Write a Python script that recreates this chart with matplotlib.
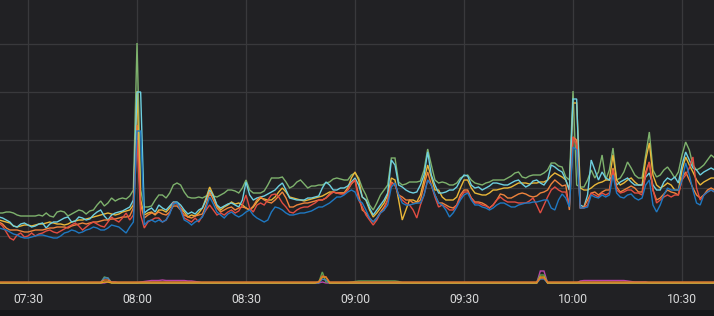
import matplotlib
matplotlib.use("Agg")
import matplotlib.pyplot as plt
import matplotlib.dates as mdates
from matplotlib.patches import Rectangle
import pandas as pd

plt.rcParams['font.family'] = ['Roboto', 'DejaVu Sans']

# one sample per minute, 07:22 .. 10:39
times = pd.date_range("2024-01-01 07:22", periods=198, freq="1min")

green = [
71,71,72,72,71,69,68,68,
68,68,68,69,68,71,68,67,72,73,
72,68,70,72,74,73,70,73,74,79,
83,78,81,86,83,85,86,85,88,94,
241,94,77,77,78,84,89,89,86,91,
99,101,99,92,87,86,86,87,86,88,
89,88,87,89,91,94,94,93,91,96,
104,94,91,91,91,93,99,106,106,106,
107,102,96,98,102,104,100,96,98,98,
99,99,101,102,105,106,105,104,104,109,
111,106,96,89,79,74,81,89,94,99,
126,126,102,99,100,102,102,102,103,114,
135,119,104,101,102,101,99,99,101,106,
108,109,104,101,100,99,101,102,104,104,
104,104,106,108,111,112,107,106,108,109,
109,109,111,114,121,121,118,117,107,104,
193,99,97,97,104,114,106,112,129,104,
114,136,104,106,112,122,116,109,106,106,
129,152,114,107,109,114,117,112,106,112,
129,142,134,119,114,116,119,124,129,126]

yellow = [
64,63,62,61,58,57,58,59,
59,58,59,60,60,61,62,61,60,60,
59,60,62,63,64,64,65,66,67,68,
69,70,71,70,69,70,72,73,74,79,
193,84,69,71,72,69,74,74,72,76,
80,81,76,72,67,69,68,71,76,86,
97,89,78,74,77,79,82,80,81,79,
76,74,77,82,86,85,84,84,87,92,
96,92,87,86,85,84,83,84,85,86,
87,88,90,92,92,91,91,91,96,106,
112,104,87,84,74,67,71,76,81,89,
106,104,84,64,74,84,84,82,89,104,
119,107,94,94,87,84,84,84,87,96,
104,104,96,91,90,89,89,91,94,94,
95,96,96,97,99,101,101,101,100,101,
101,102,102,104,108,111,109,107,104,94,
181,181,96,94,94,96,99,101,102,104,
104,129,104,99,101,104,106,102,99,99,
124,141,109,99,96,98,101,99,94,94,
114,127,119,112,104,99,102,104,106,106]

cyan = [
67,66,64,62,58,57,60,61,
59,57,58,60,61,56,60,62,62,64,
66,67,62,63,67,66,64,65,69,72,
74,68,64,69,71,72,73,75,77,84,
192,192,71,74,76,72,79,76,74,78,
82,82,79,74,70,72,70,74,76,84,
94,88,79,76,78,80,81,79,77,84,
102,89,84,86,87,88,90,92,94,98,
101,94,86,85,84,84,84,86,86,87,
88,96,102,99,94,94,96,96,98,102,
106,99,87,84,76,69,74,79,84,91,
124,119,99,97,94,92,91,92,99,109,
132,109,99,91,91,92,94,94,97,104,
109,108,99,96,97,94,96,98,101,101,
100,99,99,101,103,104,100,97,99,103,
104,101,99,104,119,117,114,112,104,94,
185,185,79,77,89,124,114,104,112,106,
104,109,99,102,104,106,102,99,99,99,
107,111,99,94,94,102,106,104,107,101,
119,132,124,116,114,109,112,114,116,114]

orange = [
62,60,56,54,54,54,53,52,
52,53,54,54,54,55,56,56,57,57,
57,56,58,59,60,61,60,61,62,62,
63,64,64,65,65,66,67,67,68,76,
159,79,66,69,71,70,72,70,69,72,
78,78,74,69,67,66,68,69,70,79,
92,84,76,72,74,76,77,74,76,77,
76,74,78,84,87,84,82,81,84,88,
92,86,77,77,79,80,81,81,82,83,
84,84,86,90,92,91,91,91,94,100,
104,89,74,71,66,62,66,72,77,84,
102,99,89,87,84,84,81,81,84,99,
112,99,89,81,81,79,77,76,79,89,
94,94,86,82,82,81,79,76,79,84,
90,89,86,86,88,90,91,90,88,87,
88,91,92,94,100,104,101,98,99,74,
147,144,76,77,84,91,92,89,92,94,
94,116,97,92,94,96,98,96,92,92,
112,122,94,84,86,90,94,92,91,89,
106,112,104,96,89,86,89,94,96,94]

red = [
61,58,52,46,44,49,51,47,
48,51,48,50,51,53,54,52,51,53,
55,57,59,61,58,54,57,60,62,60,
58,57,62,67,64,62,66,71,64,69,
144,69,56,62,64,66,66,62,64,71,
81,80,76,66,64,62,66,62,68,74,
79,74,69,71,69,72,74,71,73,79,
89,76,72,79,81,79,84,89,90,87,
81,77,72,71,74,76,77,77,79,81,
84,84,86,89,92,91,90,90,94,101,
104,84,77,69,64,59,64,71,74,84,
101,99,89,84,81,79,74,66,79,89,
104,99,87,77,79,77,74,74,79,86,
92,92,86,81,81,79,78,76,79,84,
87,84,82,82,82,81,81,81,83,86,
79,71,79,87,94,97,94,92,92,79,
147,139,76,76,79,91,89,87,91,89,
91,114,94,91,92,94,94,91,91,89,
109,122,94,81,84,87,89,87,89,89,
104,109,116,127,96,84,89,92,94,92]

blue = [
56,55,54,52,50,49,47,46,
46,47,48,49,49,48,47,46,46,48,
51,52,54,53,51,52,54,55,57,56,
54,54,56,59,58,57,54,51,57,62,
153,153,59,63,64,62,64,62,64,70,
80,81,74,64,62,59,62,64,67,76,
87,80,72,69,66,70,72,69,67,69,
72,74,69,66,64,62,64,72,77,76,
74,71,69,69,70,71,71,72,73,75,
77,77,79,81,84,87,87,89,92,94,
92,84,81,74,66,62,66,71,74,79,
97,101,89,81,79,79,80,81,81,89,
104,99,89,81,79,74,67,71,77,84,
89,91,84,79,79,77,76,74,76,79,
81,81,79,77,77,79,80,81,81,82,
82,83,84,84,76,74,84,90,86,77,
137,134,76,76,77,89,87,86,89,87,
89,109,91,87,86,89,90,86,84,86,
99,104,79,72,79,89,96,94,94,94,
104,121,109,94,81,79,89,92,94,92]

low_purple = [
1,1,1,1,1,1,1,1,
1,1,1,1,1,1,1,1,1,1,
1,1,1,1,1,1,1,1,1,1,
1,1,2,2,2,1,1,1,1,1,
1,2,2.5,3,3.5,3.5,3.5,4,3.5,3.5,
3.5,3.5,3.5,3.5,3,3,2.5,2,1,1,
1,1,1,1,1,1,1,1,1,1,
1,1,1,1,1,1,1,1,1,1,
1,1,1,1,1,1,1,1,1,1,
1,2,1,1,1,1,1,1,1,1,
1,1,1,1,1,1,1,1,1,1,
1,1,1,1,1,1,1,1,1,1,
1,1,1,1,1,1,1,1,1,1,
1,1,1,1,1,1,1,1,1,1,
1,1,1,1,1,1,1,1,1,1,
1,13,13,1,1,1,1,1,1,1,
1,1,3,3.5,3.5,3.5,3.5,3.5,3.5,3.5,
3.5,3.5,3.5,3.5,3.5,3,2.5,2,2,2,
2,1,1,1,1,1,1,1,1,1,
1,1,1,1,1,1,1,1,1,1]

low_green = [
1.5,1.5,1.5,1.5,1.5,1.5,1.5,1.5,
1.5,1.5,1.5,1.5,1.5,1.5,1.5,1.5,1.5,1.5,
1.5,1.5,1.5,1.5,1.5,1.5,1.5,1.5,1.5,1.5,
1.5,7,6,1.5,1.5,1.5,1.5,1.5,1.5,1.5,
1.5,1.5,1.5,1.5,1.5,1.5,1.5,1.5,1.5,1.5,
1.5,1.5,1.5,1.5,1.5,1.5,1.5,1.5,1.5,1.5,
1.5,1.5,1.5,1.5,1.5,1.5,1.5,1.5,1.5,1.5,
1.5,1.5,1.5,1.5,1.5,1.5,1.5,1.5,1.5,1.5,
1.5,1.5,1.5,1.5,1.5,1.5,1.5,1.5,1.5,1.5,
1.5,12,2,1.5,1.5,1.5,1.5,1.5,1.5,2,
2.5,3,3,3,3,3,3,3,3,3,
3,3,2.5,1.5,1.5,1.5,1.5,1.5,1.5,1.5,
1.5,1.5,1.5,1.5,1.5,1.5,1.5,1.5,1.5,1.5,
1.5,1.5,1.5,1.5,1.5,1.5,1.5,1.5,1.5,1.5,
1.5,1.5,1.5,1.5,1.5,1.5,1.5,1.5,1.5,1.5,
1.5,9,9,1.5,1.5,1.5,1.5,1.5,1.5,1.5,
1.5,1.5,1.5,1.5,1.5,1.5,1.5,1.5,1.5,1.5,
1.5,1.5,1.5,1.5,1.5,1.5,1.5,1.5,1.5,1.5,
1.5,1.5,1.5,1.5,1.5,1.5,1.5,1.5,1.5,1.5,
1.5,1.5,1.5,1.5,1.5,1.5,1.5,1.5,1.5,1.5]

low_yellow = [
1,1,1,1,1,1,1,1,
1,1,1,1,1,1,1,1,1,1,
1,1,1,1,1,1,1,1,1,1,
1,2,2,1,1,1,1,1,1,1,
1,1,1,1,1,1,1,1,1,1,
1,1,1,1,1,1,1,1,1,1,
1,1,1,1,1,1,1,1,1,1,
1,1,1,1,1,1,1,1,1,1,
1,1,1,1,1,1,1,1,1,1,
2,7,7,1,1,1,1,1,1,1,
1,1,1,1,1,1,1,1,1,1,
1,1,1,1,1,1,1,1,1,1,
1,1,1,1,1,1,1,1,1,1,
1,1,1,1,1,1,1,1,1,1,
1,1,1,1,1,1,1,1,1,1,
1,7,7,1,1,1,1,1,1,1,
1,1,1,1,1,1,1,1,1,1,
1,1,1,1,1,1,1,1,1,1,
1,1,1,1,1,1,1,1,1,1,
1,1,1,1,1,1,1,1,1,1]

low_orange = [
2,2,2,2,2,2,2,2,
2,2,2,2,2,2,2,2,2,2,
2,2,2,2,2,2,2,2,2,2,
2,4,4,2,2,2,2,2,2,2,
2,2,2,2,2,2,2,2,2,2,
2,2,2,2,2,2,2,2,2,2,
2,2,2,2,2,2,2,2,2,2,
2,2,2,2,2,2,2,2,2,2,
2,2,2,2,2,2,2,2,2,2,
2,8,7,2,2,2,2,2,2,2,
2,2,2,2,2,2,2,2,2,2,
2,2,2,2,2,2,2,2,2,2,
2,2,2,2,2,2,2,2,2,2,
2,2,2,2,2,2,2,2,2,2,
2,2,2,2,2,2,2,2,2,2,
2,6,6,2,2,2,2,2,2,2,
2,2,2,2,2,2,2,2,2,2,
2,2,2,2,2,2,2,2,2,2,
2,2,2,2,2,2,2,2,2,2,
2,2,2,2,2,2,2,2,2,2]

low_blue = [
1,1,1,1,1,1,1,1,
1,1,1,1,1,1,1,1,1,1,
1,1,1,1,1,1,1,1,1,1,
1,6,6,1,1,1,1,1,1,1,
1,1,1,1,1,1,1,1,1,1,
1,1,1,1,1,1,1,1,1,1,
1,1,1,1,1,1,1,1,1,1,
1,1,1,1,1,1,1,1,1,1,
1,1,1,1,1,1,1,1,1,1,
1,5,4,1,1,1,1,1,1,1,
1,1,1,1,1,1,1,1,1,1,
1,1,1,1,1,1,1,1,1,1,
1,1,1,1,1,1,1,1,1,1,
1,1,1,1,1,1,1,1,1,1,
1,1,1,1,1,1,1,1,1,1,
1,5,5,1,1,1,1,1,1,1,
1,1,1,1,1,1,1,1,1,1,
1,1,1,1,1,1,1,1,1,1,
1,1,1,1,1,1,1,1,1,1,
1,1,1,1,1,1,1,1,1,1]

upper_series = [(green, '#7EB26D'), (yellow, '#EAB839'), (cyan, '#6ED0E0'),
                (orange, '#EF843C'), (red, '#E24D42'), (blue, '#1F78C1')]
lower_series = [(low_purple, '#BA43A9'), (low_green, '#629E51'), (low_blue, '#447EBC'),
                (low_yellow, '#E5AC0E'), (low_orange, '#E0752D')]

for s, _ in upper_series + lower_series:
    assert len(s) == len(times), len(s)

BG = '#212124'
GRID = '#39393c'

fig = plt.figure(figsize=(7.14, 3.16), dpi=100, facecolor=BG)
ax = fig.add_axes([0, 32 / 316, 1, 284 / 316], facecolor=BG)

for vals, col in lower_series:
    ax.plot(times, vals, color=col, lw=1.0, solid_joinstyle='miter')
for vals, col in upper_series:
    ax.plot(times, vals, color=col, lw=1.0, solid_joinstyle='miter')

t0 = pd.Timestamp("2024-01-01 07:30")
ax.set_xlim(t0 + pd.Timedelta(minutes=-7.71), t0 + pd.Timedelta(minutes=188.8))
ax.set_ylim(0, 284)
ax.set_yticks([48, 96, 144, 192, 240])
ax.xaxis.set_major_locator(mdates.MinuteLocator(byminute=[0, 30]))
ax.xaxis.set_major_formatter(mdates.DateFormatter('%H:%M'))
ax.grid(True, color=GRID, lw=0.9)
ax.set_axisbelow(True)
ax.tick_params(axis='y', length=0, labelleft=False)
ax.tick_params(axis='x', length=0, pad=6.5, labelcolor='#d8d9da', labelsize=8.7)
for sp in ax.spines.values():
    sp.set_visible(False)

fig.add_artist(Rectangle((0, 0), 1, 6 / 316, transform=fig.transFigure,
                         facecolor='#161719', edgecolor='none'))

fig.savefig('out.png', dpi=100, facecolor=BG)
